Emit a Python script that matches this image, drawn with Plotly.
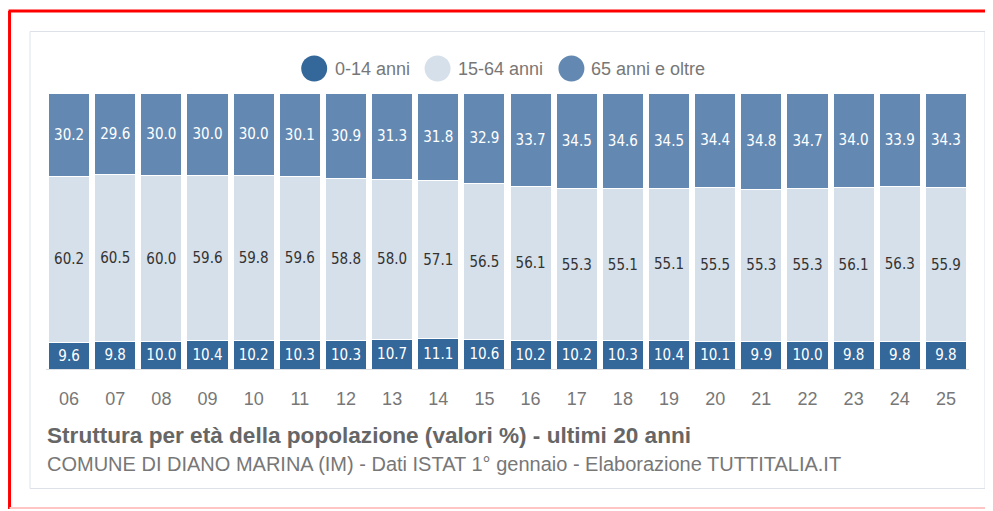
import plotly.graph_objects as go

years = ["06", "07", "08", "09", "10", "11", "12", "13", "14", "15",
         "16", "17", "18", "19", "20", "21", "22", "23", "24", "25"]
age_0_14 = [9.6, 9.8, 10.0, 10.4, 10.2, 10.3, 10.3, 10.7, 11.1, 10.6,
            10.2, 10.2, 10.3, 10.4, 10.1, 9.9, 10.0, 9.8, 9.8, 9.8]
age_15_64 = [60.2, 60.5, 60.0, 59.6, 59.8, 59.6, 58.8, 58.0, 57.1, 56.5,
             56.1, 55.3, 55.1, 55.1, 55.5, 55.3, 55.3, 56.1, 56.3, 55.9]
age_65 = [30.2, 29.6, 30.0, 30.0, 30.0, 30.1, 30.9, 31.3, 31.8, 32.9,
          33.7, 34.5, 34.6, 34.5, 34.4, 34.8, 34.7, 34.0, 33.9, 34.3]
series_names = ["0-14 anni", "15-64 anni", "65 anni e oltre"]
colors = ["#34679a", "#d6e0ea", "#6389b2"]
text_colors = ["#ffffff", "#333333", "#ffffff"]

OFF = 8  # page body margin
W_FIG, H_FIG = 993 - OFF, 511 - OFF
# plot area in page pixels
L, R, T, B = 45.5, 969.5, 93, 369
PW, PH = R - L, B - T


def px(x):
    return (x - L) / PW


def py(y):
    return (B - y) / PH


label_font = "DejaVu Sans Condensed, Liberation Sans Narrow, sans-serif"
main_font = "Liberation Sans, Arial, sans-serif"

fig = go.Figure()
for name, vals, c, tc in zip(series_names, [age_0_14, age_15_64, age_65], colors, text_colors):
    fig.add_trace(go.Bar(
        x=years, y=vals, name=name,
        marker=dict(color=c, line=dict(color="#ffffff", width=1)),
        text=[f"{v:.1f}" for v in vals],
        textposition="inside", insidetextanchor="middle",
        textfont=dict(family=label_font, size=15, color=tc),
        textangle=0, showlegend=False, hoverinfo="x+y+name",
    ))

shapes = []
annotations = []
# legend (manual, circles)
legend_items = [(314, 332.5, series_names[0], colors[0]),
                (437.5, 455.5, series_names[1], colors[1]),
                (571.5, 589, series_names[2], colors[2])]
for cx, tx, name, c in legend_items:
    r = 13
    shapes.append(dict(type="circle", xref="paper", yref="paper",
                       x0=px(cx - r), x1=px(cx + r), y0=py(68.5 + r), y1=py(68.5 - r),
                       fillcolor=c, line=dict(width=0)))
    annotations.append(dict(xref="paper", yref="paper", x=px(tx), y=py(69.5),
                            text=name, showarrow=False, xanchor="left", yanchor="middle",
                            font=dict(family=main_font, size=18, color="#777777")))

# title and subtitle
annotations.append(dict(xref="paper", yref="paper", x=px(44.5), y=py(435.5),
                        text="<b>Struttura per età della popolazione (valori %) - ultimi 20 anni</b>",
                        showarrow=False, xanchor="left", yanchor="middle",
                        font=dict(family=main_font, size=22.6, color="#666666")))
annotations.append(dict(xref="paper", yref="paper", x=px(44.5), y=py(464),
                        text="COMUNE DI DIANO MARINA (IM) - Dati ISTAT 1° gennaio - Elaborazione TUTTITALIA.IT",
                        showarrow=False, xanchor="left", yanchor="middle",
                        font=dict(family=main_font, size=20, color="#777777")))

# inner panel border
shapes.append(dict(type="rect", xref="paper", yref="paper",
                   x0=px(29.5), x1=px(985.5), y0=py(488.5), y1=py(31.5),
                   line=dict(color="#dde2ea", width=1), layer="below"))
# red frame
shapes.append(dict(type="line", xref="paper", yref="paper",
                   x0=px(8), x1=px(1000), y0=py(11), y1=py(11),
                   line=dict(color="#ff0000", width=3)))
shapes.append(dict(type="line", xref="paper", yref="paper",
                   x0=px(9), x1=px(9), y0=py(11), y1=py(509),
                   line=dict(color="#ff0000", width=3)))
shapes.append(dict(type="line", xref="paper", yref="paper",
                   x0=px(9), x1=px(1000), y0=py(508), y1=py(508),
                   line=dict(color="#ffc4c4", width=2)))

fig.update_layout(
    width=W_FIG, height=H_FIG,
    margin=dict(l=L - OFF, r=(993 - R), t=T - OFF, b=(511 - B), pad=0),
    barmode="stack", bargap=0.11,
    plot_bgcolor="#ffffff", paper_bgcolor="#ffffff",
    shapes=shapes, annotations=annotations,
    showlegend=False,
    uniformtext=dict(mode=False),
)
fig.update_xaxes(showline=True, linecolor="#dcdfe4", linewidth=1, ticks="",
                 tickfont=dict(family=main_font, size=18, color="#777777"),
                 ticklabelstandoff=13, showgrid=False)
fig.update_yaxes(visible=False, range=[0, 100], showgrid=False)

fig.write_html("out.html")
